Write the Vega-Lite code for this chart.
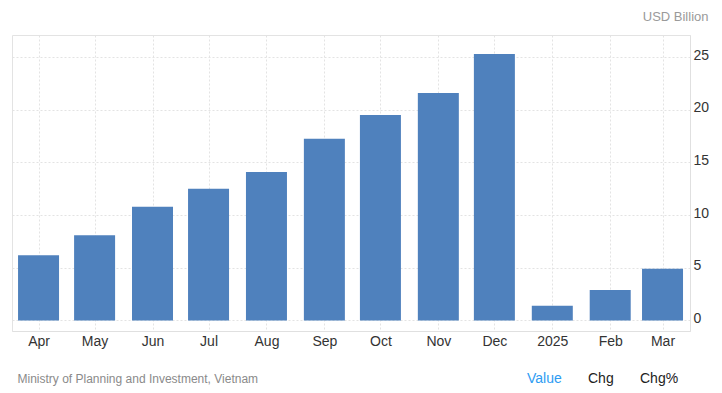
{
  "$schema": "https://vega.github.io/schema/vega-lite/v6.json",
  "width": 678,
  "height": 296,
  "autosize": {"type": "none"},
  "padding": {"left": 12, "top": 35, "right": 32, "bottom": 62},
  "background": "white",
  "config": {
    "font": "Liberation Sans",
    "view": {"stroke": "#e3e3e3", "strokeWidth": 1}
  },
  "data": {
    "values": [
      {"date": "2024-04-01", "value": 6.2, "series": "Value"},
      {"date": "2024-05-01", "value": 8.1, "series": "Value"},
      {"date": "2024-06-01", "value": 10.8, "series": "Value"},
      {"date": "2024-07-01", "value": 12.5, "series": "Value"},
      {"date": "2024-08-01", "value": 14.1, "series": "Value"},
      {"date": "2024-09-01", "value": 17.25, "series": "Value"},
      {"date": "2024-10-01", "value": 19.5, "series": "Value"},
      {"date": "2024-11-01", "value": 21.6, "series": "Value"},
      {"date": "2024-12-01", "value": 25.3, "series": "Value"},
      {"date": "2025-01-01", "value": 1.4, "series": "Value"},
      {"date": "2025-02-01", "value": 2.9, "series": "Value"},
      {"date": "2025-03-01", "value": 4.9, "series": "Value"}
    ]
  },
  "mark": {"type": "bar", "size": 41},
  "encoding": {
    "x": {
      "field": "date",
      "type": "temporal",
      "scale": {
        "type": "utc",
        "nice": false,
        "padding": 0,
        "domain": [
          {"year": 2024, "month": 3, "date": 17, "hours": 19, "utc": true},
          {"year": 2025, "month": 3, "date": 15, "hours": 17, "utc": true}
        ]
      },
      "axis": {
        "title": "Ministry of Planning and Investment, Vietnam",
        "titleAnchor": "start",
        "titleAlign": "left",
        "titleBaseline": "alphabetic",
        "titleX": 5,
        "titleY": 51,
        "titleFontSize": 12,
        "titleFontWeight": "normal",
        "titleColor": "#8a8a8a",
        "tickCount": {"interval": "month", "step": 1},
        "labelExpr": "utcmonth(datum.value) == 0 ? utcFormat(datum.value, '%Y') : utcFormat(datum.value, '%b')",
        "labelFontSize": 14,
        "labelColor": "#333333",
        "labelPadding": 3,
        "labelFlush": false,
        "labelOverlap": false,
        "ticks": false,
        "domainColor": "#e0e0e0",
        "gridColor": "#e3e3e3",
        "gridDash": [2, 2],
        "grid": true
      }
    },
    "y": {
      "field": "value",
      "type": "quantitative",
      "scale": {"domain": [-1, 27.1], "nice": false, "zero": false},
      "axis": {
        "orient": "right",
        "values": [0, 5, 10, 15, 20, 25],
        "title": "USD Billion",
        "titleAngle": 0,
        "titleAlign": "right",
        "titleBaseline": "alphabetic",
        "titleX": 18,
        "titleY": -15,
        "titleFontSize": 13,
        "titleFontWeight": "normal",
        "titleColor": "#9a9a9a",
        "labelFontSize": 14,
        "labelColor": "#333333",
        "labelPadding": 3,
        "labelOffset": -2,
        "ticks": false,
        "domainColor": "#e0e0e0",
        "gridColor": "#e3e3e3",
        "gridDash": [2, 2],
        "grid": true
      }
    },
    "y2": {"datum": 0},
    "color": {
      "field": "series",
      "type": "nominal",
      "scale": {"domain": ["Value", "Chg", "Chg%"], "range": ["#4f81bd", "#4f81bd", "#4f81bd"]},
      "legend": {
        "title": null,
        "orient": "none",
        "direction": "horizontal",
        "legendX": 501,
        "legendY": 337,
        "padding": 0,
        "symbolSize": 0,
        "symbolOpacity": 0,
        "symbolStrokeWidth": 0,
        "labelOffset": 0,
        "columnPadding": 12,
        "labelFontSize": 14,
        "labelColor": "#222222",
        "encode": {
          "labels": {
            "update": {
              "fill": {"signal": "datum.label === 'Value' ? '#2e9cf3' : '#222222'"}
            }
          }
        }
      }
    }
  }
}
